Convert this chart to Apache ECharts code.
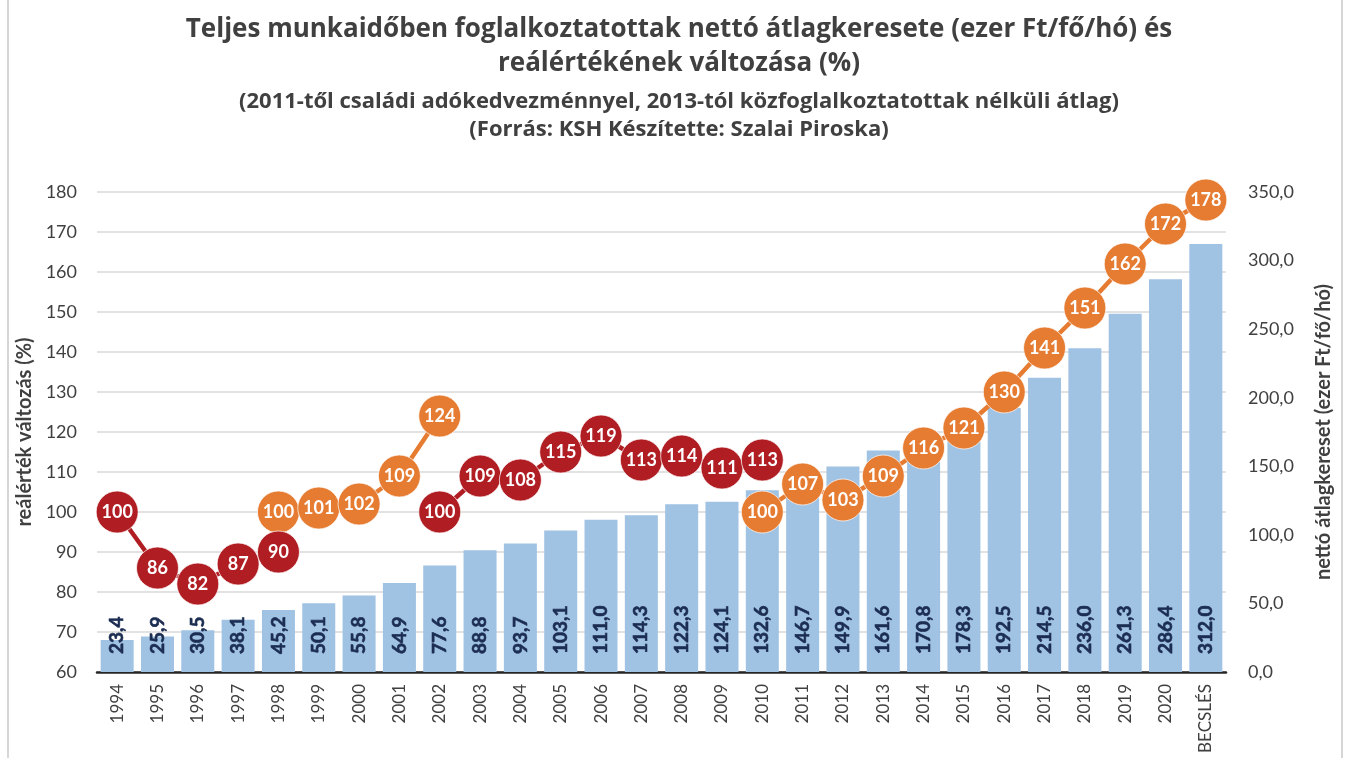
<!DOCTYPE html>
<html>
<head>
<meta charset="utf-8">
<script src="https://cdn.jsdelivr.net/npm/echarts@6/dist/echarts.min.js"></script>
<style>
html,body{margin:0;padding:0;background:#fff;}
#chart{width:1347px;height:758px;}
</style>
</head>
<body>
<div id="chart"></div>
<script>
const categories = ['1994','1995','1996','1997','1998','1999','2000','2001','2002','2003','2004','2005','2006','2007','2008','2009','2010','2011','2012','2013','2014','2015','2016','2017','2018','2019','2020','BECSLÉS'];
const netWage = [23.4,25.9,30.5,38.1,45.2,50.1,55.8,64.9,77.6,88.8,93.7,103.1,111.0,114.3,122.3,124.1,132.6,146.7,149.9,161.6,170.8,178.3,192.5,214.5,236.0,261.3,286.4,312.0];
const realRed = [100,86,82,87,90,null,null,null,100,109,108,115,119,113,114,111,113,null,null,null,null,null,null,null,null,null,null,null];
const realOrange = [null,null,null,null,100,101,102,109,124,null,null,null,null,null,null,null,100,107,103,109,116,121,130,141,151,162,172,178];
const leftTicks = {min:60, max:180, interval:10};
const rightTicks = {min:0, max:350, interval:50};

const FONT = 'Lato, "Open Sans", sans-serif';
const TFONT = '"Open Sans", sans-serif';
const chart = echarts.init(document.getElementById('chart'));
const fmt1 = v => Number(v).toFixed(1).replace('.', ',');

chart.setOption({
  backgroundColor:'#ffffff',
  animation:false,
  title:[
    {text:'Teljes munkaidőben foglalkoztatottak nettó átlagkeresete (ezer Ft/fő/hó) és',
     left:674, top:12, textAlign:'center',
     textStyle:{fontFamily:TFONT, fontSize:26, fontWeight:'bold', color:'#404040'}},
    {text:'reálértékének változása (%)',
     left:674, top:46, textAlign:'center',
     textStyle:{fontFamily:TFONT, fontSize:26, fontWeight:'bold', color:'#404040'}},
    {text:'(2011-től családi adókedvezménnyel, 2013-tól közfoglalkoztatottak nélküli átlag)',
     left:674, top:86, textAlign:'center',
     textStyle:{fontFamily:TFONT, fontSize:22, fontWeight:'bold', color:'#404040'}},
    {text:'(Forrás: KSH Készítette: Szalai Piroska)',
     left:674, top:114, textAlign:'center',
     textStyle:{fontFamily:TFONT, fontSize:22, fontWeight:'bold', color:'#404040'}}
  ],
  graphic:[
    {type:'line', shape:{x1:8,y1:0,x2:8,y2:758}, style:{stroke:'#c8c8c8', lineWidth:1.5}},
    {type:'line', shape:{x1:1342,y1:0,x2:1342,y2:758}, style:{stroke:'#c8c8c8', lineWidth:1.5}}
  ],
  grid:{left:97, right:121, top:192, bottom:86},
  xAxis:{
    type:'category', data:categories,
    axisLine:{lineStyle:{color:'#262626', width:2.5}},
    axisTick:{show:false},
    axisLabel:{rotate:90, fontFamily:FONT, fontSize:17, color:'#404040', margin:12, interval:0}
  },
  yAxis:[
    {type:'value', min:leftTicks.min, max:leftTicks.max, interval:leftTicks.interval,
     name:'reálérték változás (%)', nameLocation:'middle', nameGap:62, nameRotate:90,
     nameTextStyle:{fontFamily:FONT, fontSize:20, fontWeight:'bold', color:'#404040'},
     axisLine:{show:false}, axisTick:{show:false},
     axisLabel:{fontFamily:FONT, fontSize:18, color:'#404040', margin:20},
     splitLine:{lineStyle:{color:'#d9d9d9', width:1.5}}},
    {type:'value', min:rightTicks.min, max:rightTicks.max, interval:rightTicks.interval,
     name:'nettó átlagkereset (ezer Ft/fő/hó)', nameLocation:'middle', nameGap:88, nameRotate:90,
     nameTextStyle:{fontFamily:FONT, fontSize:20, fontWeight:'bold', color:'#404040'},
     axisLine:{show:false}, axisTick:{show:false},
     axisLabel:{fontFamily:FONT, fontSize:18, color:'#404040', margin:22, formatter:fmt1},
     splitLine:{show:false}}
  ],
  series:[
    {type:'bar', yAxisIndex:1, data:netWage, barWidth:33,
     itemStyle:{color:'#a0c2e3'},
     label:{show:true, position:'insideBottom', distance:18, rotate:90, align:'left', verticalAlign:'middle',
            fontFamily:FONT, fontSize:19, fontWeight:'bold', color:'#1c2d52',
            textBorderColor:'#1c2d52', textBorderWidth:0.6, textShadowBlur:0,
            formatter:p=>fmt1(p.value)},
     z:2},
    {type:'line', yAxisIndex:0, data:realOrange, connectNulls:false,
     symbol:'circle', symbolSize:42,
     lineStyle:{color:'#e67c32', width:4.5},
     itemStyle:{color:'#e67c32', borderColor:'rgba(255,255,255,0.7)', borderWidth:1},
     label:{show:true, position:'inside', fontFamily:FONT, fontSize:18, fontWeight:'bold', color:'#ffffff', textBorderWidth:0},
     z:3},
    {type:'line', yAxisIndex:0, data:realRed, connectNulls:false,
     symbol:'circle', symbolSize:42,
     lineStyle:{color:'#b01e24', width:4.5},
     itemStyle:{color:'#b01e24', borderColor:'rgba(255,255,255,0.7)', borderWidth:1},
     label:{show:true, position:'inside', fontFamily:FONT, fontSize:18, fontWeight:'bold', color:'#ffffff', textBorderWidth:0},
     z:4}
  ]
});
</script>
</body>
</html>
